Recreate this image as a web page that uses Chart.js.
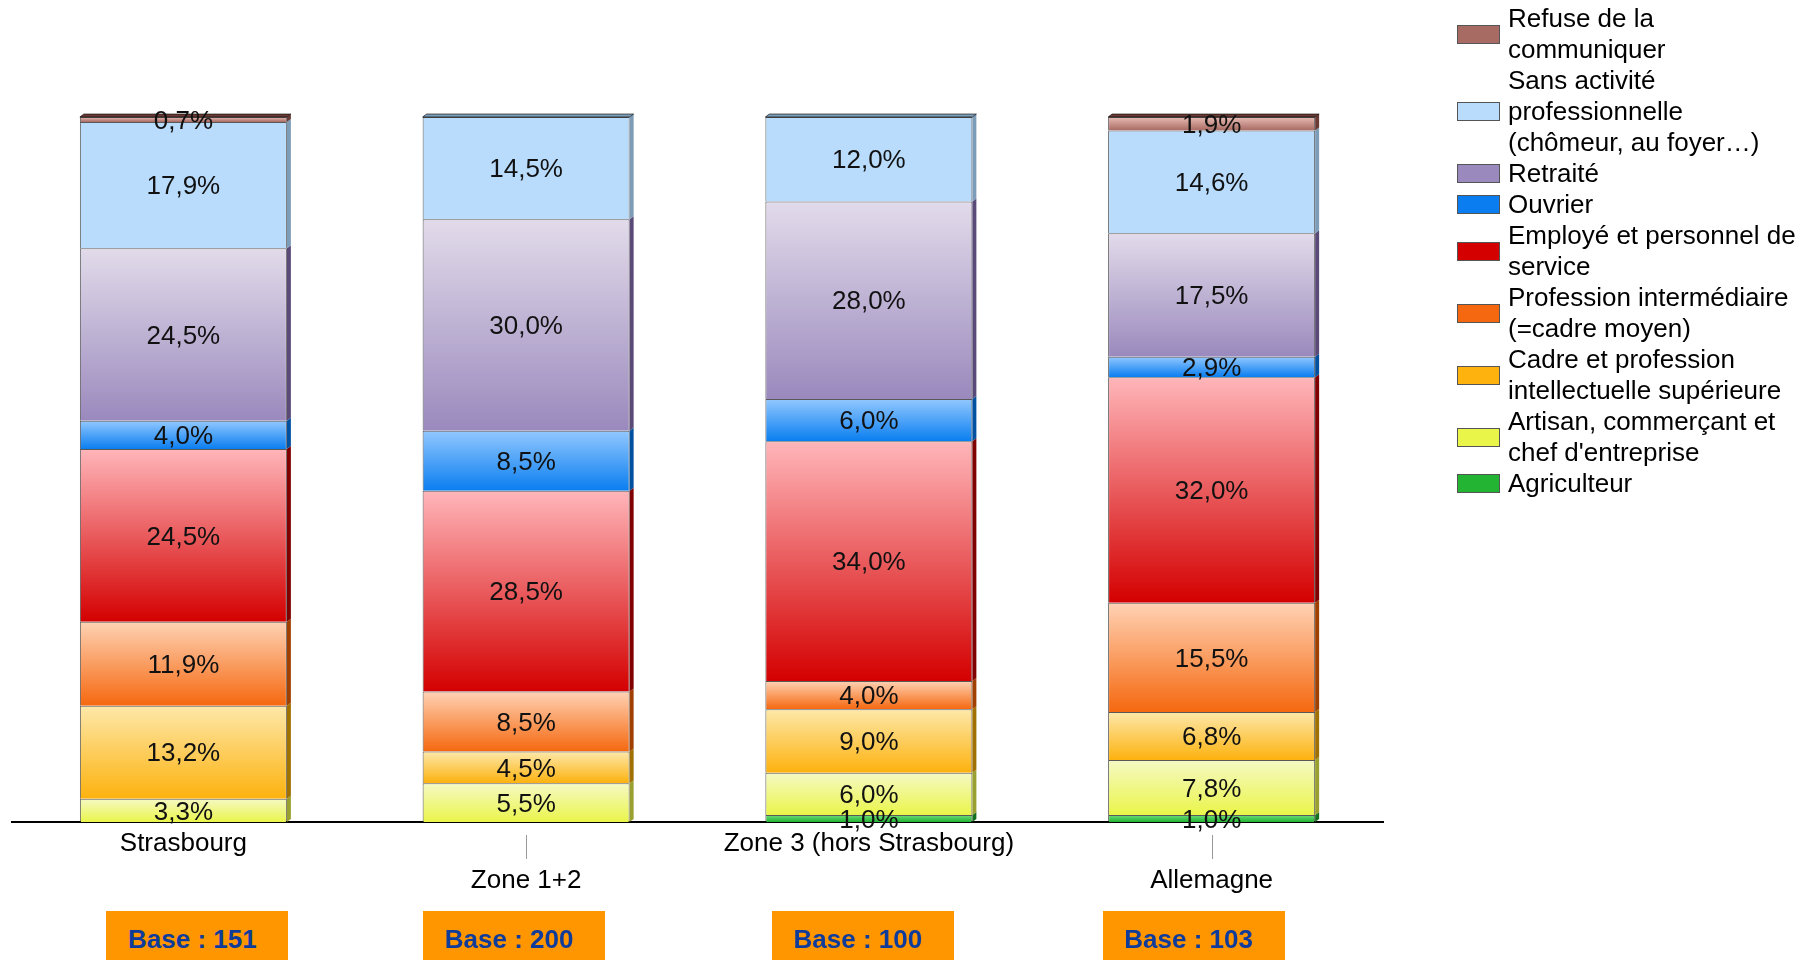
<!DOCTYPE html>
<html>
<head>
<meta charset="utf-8">
<script src="https://cdn.jsdelivr.net/npm/chart.js@4.4.1/dist/chart.umd.min.js"></script>
<style>
  body { margin: 0; background: #fff; }
  #wrap { position: relative; width: 1806px; height: 960px; overflow: hidden; }
  #chart { position: absolute; left: 0; top: 0; }
  #legend { position: absolute; left: 1457px; top: 3px; font: 26px "Liberation Sans", Arial, sans-serif; line-height: 31px; color: #000; }
  .item { display: flex; align-items: center; }
  .sw { width: 41px; height: 17px; border: 1px solid #555; margin-right: 8px; flex: none; }
  .base { position: absolute; top: 911px; width: 172px; height: 60px; background: #ff9600; color: #0f3c9b;
          font: bold 26px "Liberation Sans", Arial, sans-serif; text-align: center; line-height: 57px; padding-right: 10px; }
</style>
</head>
<body>
<div id="wrap">
  <canvas id="chart" width="1806" height="960"></canvas>
  <div id="legend"></div>
</div>
<script>
// categories, bottom of stack first
const categories = ['Strasbourg', 'Zone 1+2', 'Zone 3 (hors Strasbourg)', 'Allemagne'];
const bases = [151, 200, 100, 103];

const agriculteur   = [0, 0, 1.0, 1.0];
const artisan       = [3.3, 5.5, 6.0, 7.8];
const cadre         = [13.2, 4.5, 9.0, 6.8];
const intermediaire = [11.9, 8.5, 4.0, 15.5];
const employe       = [24.5, 28.5, 34.0, 32.0];
const ouvrier       = [4.0, 8.5, 6.0, 2.9];
const retraite      = [24.5, 30.0, 28.0, 17.5];
const sansActivite  = [17.9, 14.5, 12.0, 14.6];
const refuse        = [0.7, 0, 0, 1.9];

const series = [agriculteur, artisan, cadre, intermediaire, employe, ouvrier, retraite, sansActivite, refuse];
const seriesNames = [
  ['Agriculteur'],
  ['Artisan, commerçant et', "chef d'entreprise"],
  ['Cadre et profession', 'intellectuelle supérieure'],
  ['Profession intermédiaire', '(=cadre moyen)'],
  ['Employé et personnel de', 'service'],
  ['Ouvrier'],
  ['Retraité'],
  ['Sans activité', 'professionnelle', '(chômeur, au foyer…)'],
  ['Refuse de la', 'communiquer']
];

const flat  = ['#22b432', '#eaf54a', '#fdb20e', '#f5680f', '#d40000', '#0a7ef0', '#9a89bd', '#b9dcfd', '#a86b63'];
const light = ['#6fdc7c', '#f5f9c4', '#fde8aa', '#ffd2b4', '#ffb6ba', '#92c8ff', '#e2dbea', '#b9dcfd', '#e8bcb4'];
const side  = ['#157020', '#9aa030', '#a07000', '#a04000', '#800000', '#0050a0', '#5a4a78', '#7d9cb8', '#6a3a34'];

// box nudges relative to each bar centre
const baseNudge = [14, -12, -6, -18];

function fillFor(k) {
  return (c) => {
    const chart = c.chart, y = chart.scales && chart.scales.y;
    if (c.type !== 'data' || !y || !chart.chartArea) return flat[k];
    const i = c.dataIndex;
    let start = 0;
    for (let j = 0; j < k; j++) start += series[j][i];
    const top = y.getPixelForValue(start + series[k][i]);
    const bot = y.getPixelForValue(start);
    if (!isFinite(top) || !isFinite(bot) || top === bot) return flat[k];
    const g = chart.ctx.createLinearGradient(0, top, 0, bot);
    g.addColorStop(0, light[k]);
    g.addColorStop(1, flat[k]);
    return g;
  };
}

const fmt = v => v.toFixed(1).replace('.', ',') + '%';

const bar3d = {
  id: 'bar3d',
  afterDatasetsDraw(chart) {
    const ctx = chart.ctx, d = 4, dy = 3;
    const topIdx = categories.map((_, i) => {
      let t = -1;
      series.forEach((s, k) => { if (s[i] > 0) t = k; });
      return t;
    });
    ctx.save();
    series.forEach((s, k) => {
      chart.getDatasetMeta(k).data.forEach((el, i) => {
        if (!(s[i] > 0)) return;
        const r = el.x + el.width / 2, l = el.x - el.width / 2;
        ctx.fillStyle = side[k];
        ctx.beginPath();
        ctx.moveTo(r, el.y); ctx.lineTo(r + d, el.y - dy);
        ctx.lineTo(r + d, el.base - dy); ctx.lineTo(r, el.base);
        ctx.closePath(); ctx.fill();
        if (topIdx[i] === k) {
          ctx.fillStyle = side[k];
          ctx.beginPath();
          ctx.moveTo(l, el.y); ctx.lineTo(l + d, el.y - dy);
          ctx.lineTo(r + d, el.y - dy); ctx.lineTo(r, el.y);
          ctx.closePath(); ctx.fill();
          ctx.strokeStyle = 'rgba(0,0,0,0.6)'; ctx.lineWidth = 1; ctx.stroke();
        }
      });
    });
    // value labels
    ctx.font = '26px "Liberation Sans", Arial, sans-serif';
    ctx.fillStyle = '#111';
    ctx.textAlign = 'center';
    ctx.textBaseline = 'middle';
    series.forEach((s, k) => {
      chart.getDatasetMeta(k).data.forEach((el, i) => {
        if (!(s[i] > 0)) return;
        ctx.fillText(fmt(s[i]), el.x, (el.y + el.base) / 2 + 2);
      });
    });
    // short tick marks for staggered labels
    const x = chart.scales.x, b = chart.chartArea.bottom;
    ctx.strokeStyle = '#999'; ctx.lineWidth = 1;
    categories.forEach((_, i) => {
      if (i % 2 === 0) return;
      const px = Math.round(x.getPixelForValue(i)) + 0.5;
      ctx.beginPath(); ctx.moveTo(px, b + 13); ctx.lineTo(px, b + 37); ctx.stroke();
    });
    ctx.restore();
  }
};

Chart.defaults.font.family = '"Liberation Sans", Arial, sans-serif';

const chart = new Chart(document.getElementById('chart'), {
  type: 'bar',
  data: {
    labels: categories,
    datasets: series.map((s, k) => ({
      label: seriesNames[k].join(' '),
      data: s,
      backgroundColor: fillFor(k),
      borderColor: 'rgba(0,0,0,0.65)',
      borderWidth: 1,
      barPercentage: 0.604,
      categoryPercentage: 1
    }))
  },
  options: {
    responsive: false,
    animation: false,
    layout: { padding: { left: 12, right: 423, top: 117, bottom: 0 } },
    plugins: { legend: { display: false }, tooltip: { enabled: false } },
    scales: {
      x: {
        stacked: true,
        grid: { display: false, drawTicks: false },
        border: { display: true, color: '#000', width: 2 },
        ticks: {
          autoSkip: false, maxRotation: 0, padding: 3, color: '#000',
          font: { size: 26, lineHeight: '37px' },
          callback: function (v, i) { return i % 2 ? ['', this.getLabelForValue(v)] : this.getLabelForValue(v); }
        },
        afterFit: s => { s.height = 138; }
      },
      y: { stacked: true, display: false, min: 0, max: 100 }
    }
  },
  plugins: [bar3d]
});

// legend, top of stack first
const legend = document.getElementById('legend');
for (let k = series.length - 1; k >= 0; k--) {
  const row = document.createElement('div');
  row.className = 'item';
  row.innerHTML = '<span class="sw" style="background:' + flat[k] + '"></span><span>' +
    seriesNames[k].join('<br>') + '</span>';
  legend.appendChild(row);
}

// "Base" boxes under each category
const wrap = document.getElementById('wrap');
bases.forEach((n, i) => {
  const box = document.createElement('div');
  box.className = 'base';
  box.textContent = 'Base : ' + n;
  box.style.left = (chart.scales.x.getPixelForValue(i) + baseNudge[i] - 91) + 'px';
  wrap.appendChild(box);
});
</script>
</body>
</html>
